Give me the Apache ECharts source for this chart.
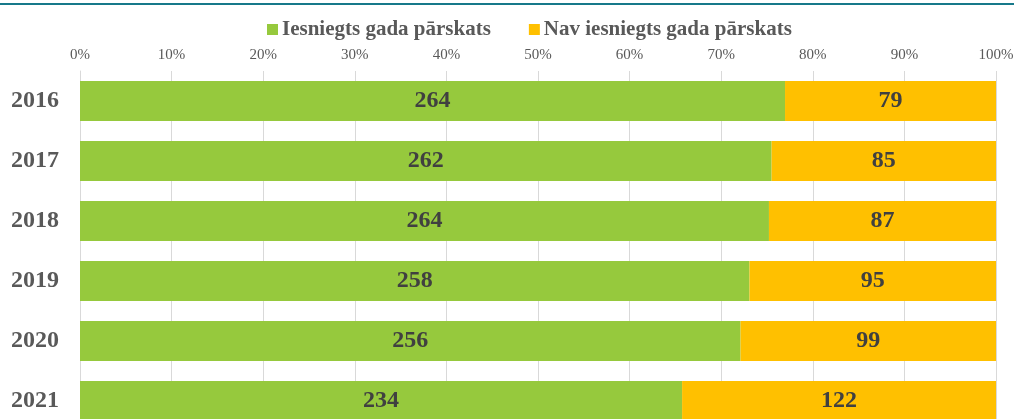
<!DOCTYPE html>
<html>
<head>
<meta charset="utf-8">
<script src="https://cdn.jsdelivr.net/npm/echarts@6/dist/echarts.min.js"></script>
<style>
html, body { margin: 0; padding: 0; background: #fff; overflow: hidden; }
#chart { width: 1014px; height: 419px; }
</style>
</head>
<body>
<div id="chart"></div>
<script>
// dati
var years = ['2016', '2017', '2018', '2019', '2020', '2021'];
var iesniegts = [264, 262, 264, 258, 256, 234];
var nav = [79, 85, 87, 95, 99, 122];
var xTicks = [0, 10, 20, 30, 40, 50, 60, 70, 80, 90, 100];

var fontFam = '"Liberation Serif", "Times New Roman", serif';

// procenti no skaitiem (100% stacked)
function pct(a, b, i) {
	return a[i] / (a[i] + b[i]) * 100;
}
var greenData = years.map(function(y, i) {
	return { value: pct(iesniegts, nav, i), cnt: iesniegts[i] };
});
var orangeData = years.map(function(y, i) {
	return { value: pct(nav, iesniegts, i), cnt: nav[i] };
});

var chart = echarts.init(document.getElementById('chart'));

var labelCfg = {
	show: true,
	position: 'inside',
	fontFamily: fontFam,
	fontWeight: 'bold',
	fontSize: 24,
	color: '#404040',
	formatter: function(p) { return p.data.cnt; }
};

chart.setOption({
	animation: false,
	graphic: [{
		type: 'line',
		shape: { x1: 0, y1: 4, x2: 1014, y2: 4 },
		style: { stroke: '#17798a', lineWidth: 2 }
	}],
	legend: {
		top: 14,
		left: 262,
		itemWidth: 11,
		itemHeight: 11,
		itemGap: 38,
		icon: 'rect',
		textStyle: {
			fontFamily: fontFam,
			fontWeight: 'bold',
			fontSize: 21,
			color: '#595959',
			padding: [0, 0, 0, -1]
		},
		data: ['Iesniegts gada pārskats', 'Nav iesniegts gada pārskats']
	},
	grid: {
		left: 80,
		right: 18,
		top: 71,
		height: 360,
		outerBoundsMode: 'none',
		containLabel: false
	},
	xAxis: {
		type: 'value',
		position: 'top',
		min: xTicks[0],
		max: xTicks[xTicks.length - 1],
		interval: 10,
		axisLine: { show: false },
		axisTick: { show: false },
		axisLabel: {
			formatter: '{value}%',
			fontFamily: fontFam,
			fontSize: 15,
			color: '#595959',
			margin: 8
		},
		splitLine: { lineStyle: { color: '#d9d9d9', width: 1 } }
	},
	yAxis: {
		type: 'category',
		inverse: true,
		data: years,
		axisLine: { show: true, lineStyle: { color: '#d9d9d9', width: 1 } },
		axisTick: { show: false },
		axisLabel: {
			fontFamily: fontFam,
			fontWeight: 'bold',
			fontSize: 24,
			color: '#595959',
			margin: 21
		}
	},
	series: [{
		name: 'Iesniegts gada pārskats',
		type: 'bar',
		stack: 'a',
		barWidth: 40,
		itemStyle: { color: '#96c93d' },
		label: labelCfg,
		data: greenData
	}, {
		name: 'Nav iesniegts gada pārskats',
		type: 'bar',
		stack: 'a',
		barWidth: 40,
		itemStyle: { color: '#ffc000' },
		label: labelCfg,
		data: orangeData
	}]
});
</script>
</body>
</html>
